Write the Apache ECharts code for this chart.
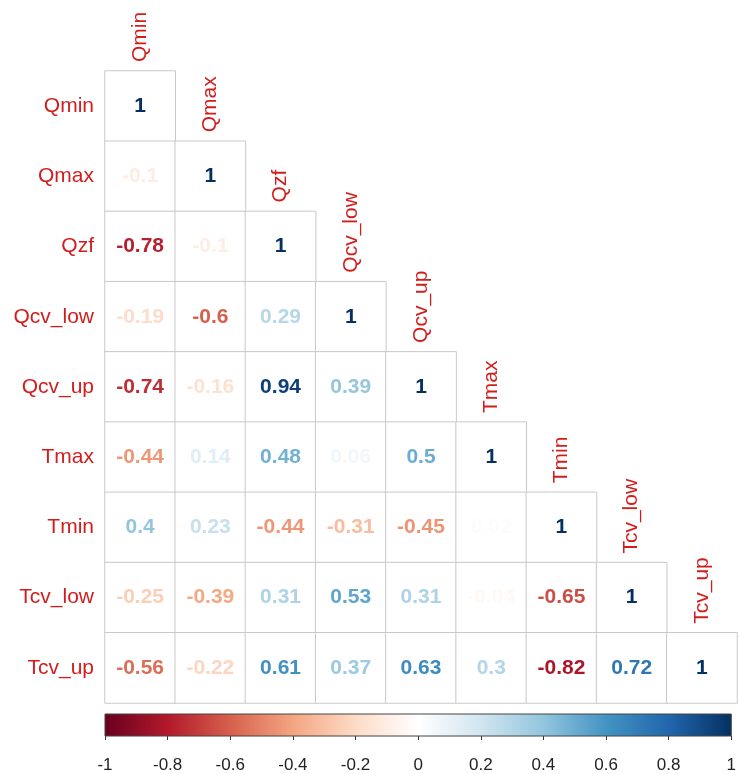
<!DOCTYPE html>
<html>
<head>
<meta charset="utf-8">
<script src="https://cdn.jsdelivr.net/npm/echarts@6/dist/echarts.min.js"></script>
<style>
html,body{margin:0;padding:0;background:#fff;}
#chart{width:739px;height:774px;}
</style>
</head>
<body>
<div id="chart"></div>
<script>
// Variable names (rows top->bottom, columns left->right)
var variables = ['Qmin','Qmax','Qzf','Qcv_low','Qcv_up','Tmax','Tmin','Tcv_low','Tcv_up'];

// Lower-triangle correlation values, one array per row (diagonal included)
var rowQmin   = [1];
var rowQmax   = [-0.1, 1];
var rowQzf    = [-0.78, -0.1, 1];
var rowQcvLow = [-0.19, -0.6, 0.29, 1];
var rowQcvUp  = [-0.74, -0.16, 0.94, 0.39, 1];
var rowTmax   = [-0.44, 0.14, 0.48, 0.06, 0.5, 1];
var rowTmin   = [0.4, 0.23, -0.44, -0.31, -0.45, 0.02, 1];
var rowTcvLow = [-0.25, -0.39, 0.31, 0.53, 0.31, -0.04, -0.65, 1];
var rowTcvUp  = [-0.56, -0.22, 0.61, 0.37, 0.63, 0.3, -0.82, 0.72, 1];
var corrRows = [rowQmin,rowQmax,rowQzf,rowQcvLow,rowQcvUp,rowTmax,rowTmin,rowTcvLow,rowTcvUp];

// Colour-bar tick labels
var barTicks = [-1,-0.8,-0.6,-0.4,-0.2,0,0.2,0.4,0.6,0.8,1];

// RdBu palette (corrplot COL2)
var palette = ['#67001F','#B2182B','#D6604D','#F4A582','#FDDBC7','#FFFFFF','#D1E5F0','#92C5DE','#4393C3','#2166AC','#053061'];

function hexToRgb(h){return [parseInt(h.substr(1,2),16),parseInt(h.substr(3,2),16),parseInt(h.substr(5,2),16)];}
function corrColor(v){
  var t = (v + 1) / 2 * (palette.length - 1);
  var i = Math.floor(t); if (i >= palette.length - 1) i = palette.length - 2; if (i < 0) i = 0;
  var f = t - i;
  var a = hexToRgb(palette[i]), b = hexToRgb(palette[i+1]);
  var c = a.map(function(x,k){return Math.round(x + (b[k]-x)*f);});
  return 'rgb(' + c.join(',') + ')';
}

var FONT = "'Liberation Sans', Arial, Helvetica, sans-serif";
var LABEL_RED = '#d21d1d';

var cellData = [];
corrRows.forEach(function(row, i){
  row.forEach(function(v, j){
    cellData.push({value:[j, i, v], label:{color: corrColor(v)}});
  });
});

var topLabelData = variables.map(function(name, j){ return [j, j, name]; });

var gridLeft = 105, gridTop = 71, gridSize = 632;

var chart = echarts.init(document.getElementById('chart'), null, {renderer:'canvas'});
chart.setOption({
  backgroundColor: '#ffffff',
  animation: false,
  grid: [
    {left: gridLeft, top: gridTop, width: gridSize, height: gridSize},
    {left: gridLeft, top: 714, width: gridSize - 1, height: 22}
  ],
  xAxis: [
    {type:'category', gridIndex:0, data: variables, show:false},
    {type:'value', gridIndex:1, min:-1, max:1, interval:0.2,
     axisLine:{show:false},
     axisTick:{show:true, length:4, lineStyle:{color:'#333', width:1}},
     splitLine:{show:false},
     axisLabel:{margin:21, fontSize:17, color:'#222', fontFamily:FONT,
       formatter:function(v){ var r = Math.round(v*10)/10; return String(r); }}}
  ],
  yAxis: [
    {type:'category', gridIndex:0, data: variables, inverse:true,
     axisLine:{show:false}, axisTick:{show:false}, splitLine:{show:false},
     axisLabel:{margin:11, fontSize:21, color:LABEL_RED, fontFamily:FONT}},
    {type:'value', gridIndex:1, min:0, max:1, show:false}
  ],
  series: [
    {
      type:'heatmap', xAxisIndex:0, yAxisIndex:0,
      data: cellData,
      itemStyle:{color:'#ffffff', borderColor:'#c9c9c9', borderWidth:1},
      label:{show:true, fontSize:21, fontWeight:'bold', fontFamily:FONT,
        formatter:function(p){ return String(p.value[2]); }},
      emphasis:{disabled:true}
    },
    {
      type:'custom', xAxisIndex:0, yAxisIndex:0,
      data: topLabelData,
      renderItem:function(params, api){
        var c = api.coord([api.value(0), api.value(1)]);
        var s = api.size([1,1]);
        return {
          type:'text',
          x: c[0], y: c[1] - s[1]/2 - 9,
          rotation: Math.PI/2,
          style:{text: variables[params.dataIndex], fill: LABEL_RED, fontSize:21, fontFamily:FONT,
                 align:'left', verticalAlign:'middle'}
        };
      }
    },
    {
      type:'custom', xAxisIndex:1, yAxisIndex:1,
      data: [[barTicks[0], barTicks[barTicks.length-1]]],
      renderItem:function(params, api){
        var p0 = api.coord([api.value(0), 1]);
        var p1 = api.coord([api.value(1), 0]);
        var stops = palette.map(function(c, k){ return {offset: k/(palette.length-1), color: c}; });
        return {
          type:'rect',
          shape:{x:p0[0], y:p0[1], width:p1[0]-p0[0], height:p1[1]-p0[1]},
          style:{fill: new echarts.graphic.LinearGradient(0,0,1,0,stops), stroke:'#444', lineWidth:1}
        };
      }
    }
  ]
});
</script>
</body>
</html>
